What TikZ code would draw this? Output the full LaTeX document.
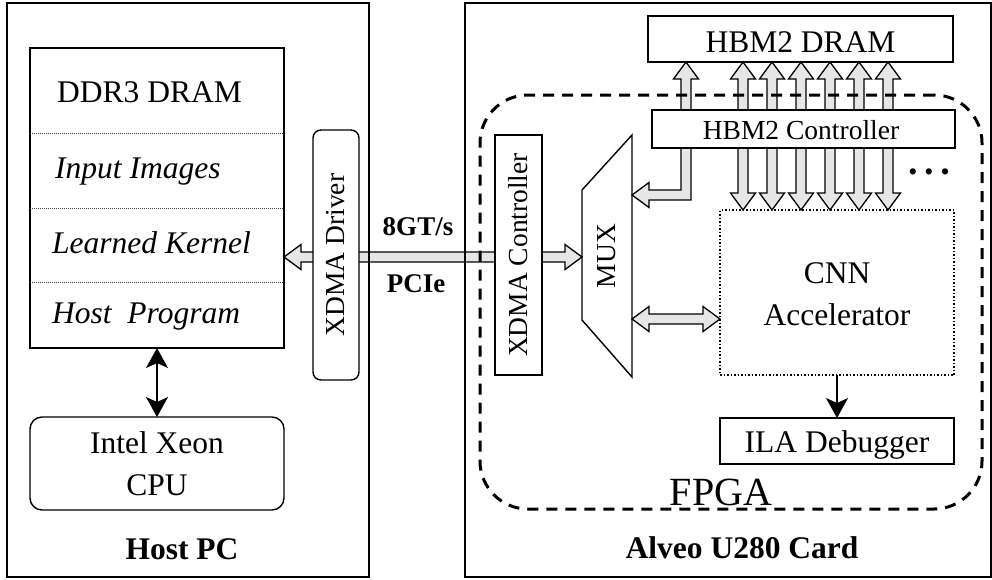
\documentclass[tikz,border=0pt]{standalone}
\usepackage{fontspec}
\setmainfont{Liberation Serif}
\usetikzlibrary{calc,arrows.meta}
\pgfdeclarelayer{bg}
\pgfsetlayers{bg,main}
\definecolor{afill}{RGB}{230,230,230}
\tikzset{
  outerbox/.style={draw, line width=1.4pt, inner sep=0pt, outer sep=0pt},
  box/.style={draw, line width=1.4pt, fill=white, inner sep=0pt, outer sep=0pt},
  blk/.style={draw, line width=1.3pt, fill=afill, line join=miter},
  txt/.style={inner sep=0pt, font=\fontsize{31.5}{36}\selectfont},
  itx/.style={inner sep=0pt, font=\fontsize{31.5}{36}\selectfont\itshape},
  btx/.style={inner sep=0pt, font=\fontsize{31.5}{36}\selectfont\bfseries},
  stxt/.style={inner sep=0pt, font=\fontsize{27.5}{32}\selectfont},
  sbtx/.style={inner sep=0pt, font=\fontsize{27}{32}\selectfont\bfseries},
  divider/.style={line width=0.6pt, black!75, dash pattern=on 1pt off 1pt},
  thinarrow/.style={line width=1.5pt},
}
\newcommand\OneBlk[2]{%
  \draw[blk] let \p1=#1, \p2=#2, \n1={atan2(\y2-\y1,\x2-\x1)} in
    ($(\p1)+({\n1+90}:5pt)$) -- ($(\p2)+({\n1+180}:17pt)+({\n1+90}:5pt)$)
    -- ($(\p2)+({\n1+180}:17pt)+({\n1+90}:12.5pt)$) -- (\p2)
    -- ($(\p2)+({\n1+180}:17pt)+({\n1-90}:12.5pt)$)
    -- ($(\p2)+({\n1+180}:17pt)+({\n1-90}:5pt)$)
    -- ($(\p1)+({\n1-90}:5pt)$) -- cycle;}
\newcommand\TwoBlk[2]{%
  \draw[blk] let \p1=#1, \p2=#2, \n1={atan2(\y2-\y1,\x2-\x1)} in
    (\p1) -- ($(\p1)+({\n1}:17pt)+({\n1+90}:12.5pt)$)
    -- ($(\p1)+({\n1}:17pt)+({\n1+90}:5pt)$)
    -- ($(\p2)+({\n1+180}:17pt)+({\n1+90}:5pt)$)
    -- ($(\p2)+({\n1+180}:17pt)+({\n1+90}:12.5pt)$) -- (\p2)
    -- ($(\p2)+({\n1+180}:17pt)+({\n1-90}:12.5pt)$)
    -- ($(\p2)+({\n1+180}:17pt)+({\n1-90}:5pt)$)
    -- ($(\p1)+({\n1}:17pt)+({\n1-90}:5pt)$)
    -- ($(\p1)+({\n1}:17pt)+({\n1-90}:12.5pt)$) -- cycle;}
\begin{document}
\begin{tikzpicture}[x=1pt,y=-1pt]
\useasboundingbox (0,0) rectangle (992,579);
% outer boxes
\node[outerbox, minimum width=362pt, minimum height=574pt] (host) at (188,290) {};
\node[outerbox, minimum width=526pt, minimum height=574pt] (card) at (728,290) {};
% host side
\node[box, minimum width=254pt, minimum height=300pt] (ddr) at (157,198) {};
\coordinate (d1) at (0,133);
\coordinate (d2) at (0,208);
\coordinate (d3) at (0,282);
\draw[divider] (ddr.west |- d1) -- (ddr.east |- d1);
\draw[divider] (ddr.west |- d2) -- (ddr.east |- d2);
\draw[divider] (ddr.west |- d3) -- (ddr.east |- d3);
\node[txt, anchor=base west] at (57,102) {DDR3 DRAM};
\node[itx, anchor=base west] at (55,178) {Input Images};
\node[itx, anchor=base west] at (52,253) {Learned Kernel};
\node[itx, anchor=base west] at (52,323) {Host\ \ Program};
\node[box, rounded corners=12pt, minimum width=254pt, minimum height=93pt] (cpu) at (157,463.5) {};
\node[txt, anchor=base] at (157,453) {Intel Xeon};
\node[txt, anchor=base] at (157,495) {CPU};
\node[box, rounded corners=8pt, minimum width=46pt, minimum height=250pt] (drv) at (336,255) {};
\node[stxt, rotate=90] at (drv.center) {XDMA Driver};
\node[btx, anchor=base] at (182,559) {Host PC};
\node[sbtx, anchor=base] at (418,235) {8GT/s};
\node[sbtx, anchor=base] at (416,292) {PCIe};
% card side
\node[box, minimum width=47pt, minimum height=240pt] (xctl) at (518.5,255) {};
\node[stxt, rotate=90] at (xctl.center) {XDMA Controller};
\node[inner sep=0pt, outer sep=0pt, minimum width=50pt, minimum height=242pt] (mux) at (607,256) {};
\draw[line width=1.4pt, line join=miter] (582,190) -- (632,135) -- (632,377) -- (582,320) -- cycle;
\node[stxt, rotate=90] at (mux.center) {MUX};
\node[box, minimum width=305pt, minimum height=46pt] (hbmd) at (800.5,39) {};
\node[txt, anchor=base] at (800.5,52) {HBM2 DRAM};
\node[box, minimum width=303pt, minimum height=38pt] (hbmc) at (803.5,129) {};
\node[stxt, anchor=base] at (801,139) {HBM2 Controller};
\node[draw, line width=1.5pt, dash pattern=on 1.5pt off 2pt, inner sep=0pt, outer sep=0pt,
      minimum width=234pt, minimum height=165pt] (cnn) at (837,292.5) {};
\node[txt, anchor=base] at (837,283) {CNN};
\node[txt, anchor=base] at (837,325) {Accelerator};
\node[box, minimum width=234pt, minimum height=46pt] (ila) at (837,441) {};
\node[txt, anchor=base] at (837,452) {ILA Debugger};
\node[inner sep=0pt, font=\fontsize{26}{30}\selectfont] at (929,175)
  {\textbullet\kern 7pt\textbullet\kern 7pt\textbullet};
\node[draw, line width=3pt, dash pattern=on 11pt off 8pt, rounded corners=48pt, inner sep=0pt,
      minimum width=502pt, minimum height=414pt] (fpga) at (731,302) {};
\node[inner sep=0pt, anchor=base, font=\fontsize{40}{44}\selectfont] at (721,505) {FPGA};
\node[btx, anchor=base] at (742,558) {Alveo U280 Card};
% thin arrows
\draw[thinarrow, {Stealth[length=20pt,width=22pt,inset=5pt]}-{Stealth[length=20pt,width=22pt,inset=5pt]}]
  (ddr.south) -- (cpu.north);
\draw[thinarrow, -{Stealth[length=20pt,width=22pt,inset=5pt]}] (cnn.south) -- (ila.north);
% block arrows
\coordinate (pcie) at (0,257);
\coordinate (mc) at (0,319);
\coordinate (ex) at (686,0);
\coordinate (ey) at (0,195);
\begin{pgfonlayer}{bg}
\OneBlk{(xctl.west |- pcie)}{(ddr.east |- pcie)}
\OneBlk{(xctl.east |- pcie)}{(mux.west |- pcie)}
\TwoBlk{(mux.east |- mc)}{(cnn.west |- mc)}
\foreach \xx [count=\i] in {743,772,801,830,859,888} {
  \coordinate (h\i) at (\xx,0);
  \TwoBlk{(hbmd.south -| h\i)}{(cnn.north -| h\i)}
}
\draw[blk] let \p1=(hbmd.south -| ex), \p2=(mux.east |- ey) in
  (\x1,\y1) -- ++(12.5pt,-17pt) -- ++(-7.5pt,0pt) -- (\x1+5pt,\y2-5pt)
  -- (\x2+17pt,\y2-5pt) -- ++(0pt,-7.5pt) -- (\x2,\y2) -- ++(17pt,12.5pt)
  -- ++(0pt,-7.5pt) -- (\x1-5pt,\y2+5pt) -- (\x1-5pt,\y1-17pt) -- ++(-7.5pt,0pt) -- cycle;
\end{pgfonlayer}
\end{tikzpicture}
\end{document}
